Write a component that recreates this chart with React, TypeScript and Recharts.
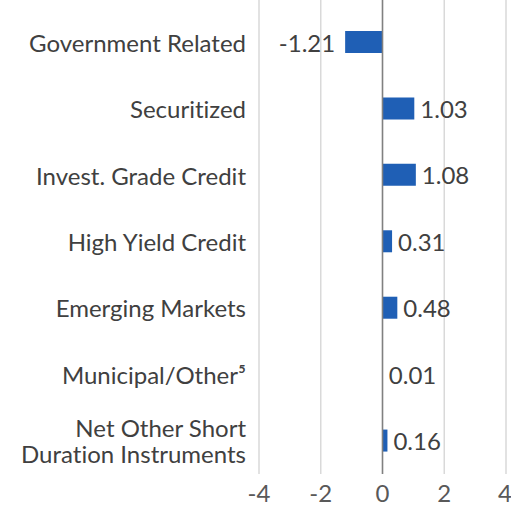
import React from 'react';
import { BarChart, Bar, XAxis, YAxis, CartesianGrid, ReferenceLine, LabelList } from 'recharts';

const categories = [
  'Government Related',
  'Securitized',
  'Invest. Grade Credit',
  'High Yield Credit',
  'Emerging Markets',
  'Municipal/Other⁵',
  'Net Other Short\nDuration Instruments',
];
const values = [-1.21, 1.03, 1.08, 0.31, 0.48, 0.01, 0.16];
const xTicks = [-4, -2, 0, 2, 4];

const data = categories.map((name, i) => ({ name, value: values[i] }));

const FONT = 'Lato, "Open Sans", sans-serif';
const noLig = { fontVariantLigatures: 'none' as const };

const CategoryTick = ({ x, y, payload }: any) => {
  const lines = String(payload.value).split('\n');
  const lineH = 26;
  const start = y - ((lines.length - 1) * lineH) / 2;
  return (
    <g>
      {lines.map((l, i) => (
        <text key={i} x={x} y={start + i * lineH} textAnchor="end" fill="#404040" fontSize={24}
          fontFamily={FONT} dominantBaseline="central" style={noLig}>
          {l}
        </text>
      ))}
    </g>
  );
};

const ValueLabel = ({ x, y, width, height, value }: any) => {
  const neg = value < 0;
  const end = x + width;
  const tx = neg ? Math.min(x, end) - 10 : Math.max(x, end) + 6;
  return (
    <text x={tx} y={y + height / 2} textAnchor={neg ? 'end' : 'start'} dominantBaseline="central"
      fill="#404040" fontSize={24} fontFamily={FONT}>
      {value.toFixed(2)}
    </text>
  );
};

export default function App() {
  return (
    <div style={{ position: 'absolute', left: 0, top: 0, width: 511, height: 512, background: '#fff' }}>
      <BarChart width={511} height={512} data={data} layout="vertical"
        margin={{ top: 0, right: 5, left: 0, bottom: 0 }} barCategoryGap="33%">
        <CartesianGrid horizontal={false} stroke="#d9d9d9" strokeWidth={1.5} />
        <XAxis type="number" domain={[-4, 4]} ticks={xTicks} axisLine={false} tickLine={false}
          height={38} tickMargin={5} tick={{ fill: '#595959', fontSize: 24, fontFamily: FONT }} />
        <YAxis type="category" dataKey="name" width={259} axisLine={false} tickLine={false}
          tick={<CategoryTick />} tickMargin={7} padding={{ top: 9, bottom: 0 }} interval={0} />
        <ReferenceLine x={0} stroke="#808080" strokeWidth={1.5} />
        <Bar dataKey="value" fill="#1f5fb5" isAnimationActive={false} barSize={22}>
          <LabelList dataKey="value" content={<ValueLabel />} />
        </Bar>
      </BarChart>
    </div>
  );
}
